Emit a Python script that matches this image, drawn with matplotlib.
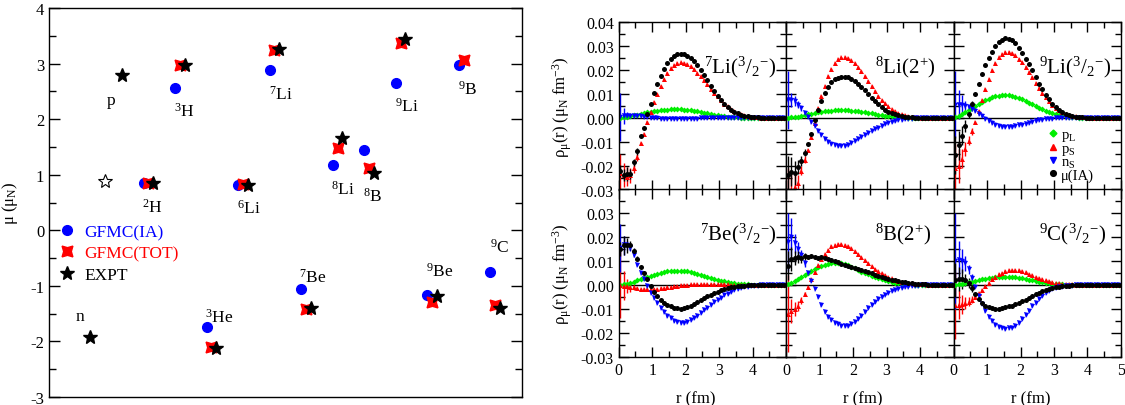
import numpy as np
import matplotlib
matplotlib.use('Agg')
import matplotlib.pyplot as plt
from matplotlib.ticker import MultipleLocator, FuncFormatter, NullLocator
from matplotlib.lines import Line2D

plt.rcParams['font.family'] = ['Liberation Serif', 'DejaVu Serif']
plt.rcParams['mathtext.fontset'] = 'custom'
plt.rcParams['mathtext.rm'] = 'Liberation Serif'
plt.rcParams['mathtext.it'] = 'Liberation Serif:italic'
plt.rcParams['mathtext.bf'] = 'Liberation Serif:bold'
plt.rcParams['axes.unicode_minus'] = False

nan = np.nan

# ---- left panel: magnetic moments (mu_N) ----
nuclei = ['n', 'p', '2H', '3H', '3He', '6Li', '7Li', '7Be', '8Li', '8B', '9Li', '9Be', '9B', '9C']
label_text = ['n', 'p', r'$^{2}$H', r'$^{3}$H', r'$^{3}$He', r'$^{6}$Li', r'$^{7}$Li', r'$^{7}$Be',
              r'$^{8}$Li', r'$^{8}$B', r'$^{9}$Li', r'$^{9}$Be', r'$^{9}$B', r'$^{9}$C']
mu_ia = [nan, nan, 0.847, 2.56, -1.74, 0.82, 2.88, -1.06, 1.17, 1.45, 2.66, -1.17, 2.97, -0.75]
mu_tot = [nan, nan, 0.86, 2.97, -2.10, 0.83, 3.24, -1.41, 1.49, 1.12, 3.38, -1.29, 3.06, -1.35]
mu_expt = [-1.913, 2.793, 0.857, 2.979, -2.127, 0.822, 3.256, -1.398, 1.654, 1.036, 3.437, -1.178, nan, -1.391]
mu_pn_sum = 0.880

# label placement (x, y) in data units
label_pos = [(-0.01, -1.55), (0.98, 2.34), (2.28, 0.42), (3.28, 2.15), (4.41, -1.55), (5.33, 0.41),
             (6.34, 2.46), (7.375, -0.84), (8.33, 0.75), (9.27, 0.63), (10.35, 2.25), (11.4, -0.72),
             (12.28, 2.55), (13.28, -0.30)]

# ---- right panels: densities, units of 1e-3 mu_N fm^-3, r = 0.05 ... 4.95 fm ----
r_fm = np.linspace(0.05, 4.95, 50)

li7_pL = [0.1, 0.3, 0.5, 0.8, 1.1, 1.4, 1.8, 2.1, 2.4, 2.7,
          2.9, 3.1, 3.3, 3.4, 3.5, 3.6, 3.6, 3.6, 3.6, 3.5,
          3.4, 3.2, 3.0, 2.8, 2.5, 2.2, 1.9, 1.6, 1.3, 1.1,
          0.9, 0.7, 0.55, 0.4, 0.3, 0.2, 0.15, 0.1, 0.07, 0.05,
          0.03, 0.02, 0.01, 0, 0, 0, 0, 0, 0, 0]
li7_pS = [-23, -24, -24.5, -24, -21, -16.5, -10.5, -6.5, -1.5, 2.5,
          6.5, 10, 13.5, 16.5, 19, 21, 22.3, 23, 23.2, 23,
          22.5, 21.6, 20.5, 19, 17.5, 15.8, 14, 12.3, 10.6, 9,
          7.5, 6, 4.8, 3.7, 2.8, 2.1, 1.5, 1.1, 0.8, 0.5,
          0.35, 0.25, 0.15, 0.1, 0.05, 0.03, 0.02, 0.01, 0, 0]
li7_nS = [0.5, 0.8, 0.9, 0.9, 0.9, 0.8, 0.7, 0.5, 0.3, 0.1,
          -0.1, -0.2, -0.3, -0.4, -0.5, -0.5, -0.5, -0.5, -0.5, -0.5,
          -0.4, -0.4, -0.3, -0.3, -0.2, -0.2, -0.1, -0.1, -0.05, -0.05,
          0, 0, 0, 0, 0, 0, 0, 0, 0, 0,
          0, 0, 0, 0, 0, 0, 0, 0, 0, 0]
li7_mu = [-22, -24, -23.5, -23.5, -18.5, -14, -7.5, -4, 1.5, 6,
          10.5, 14, 17.5, 20.5, 23, 24.8, 26, 26.7, 26.8, 26.6,
          26, 25, 23.7, 22, 20, 18, 15.8, 13.5, 11.3, 9.3,
          7.5, 5.9, 4.6, 3.5, 2.6, 1.9, 1.4, 1.0, 0.7, 0.5,
          0.35, 0.25, 0.15, 0.1, 0.05, 0.03, 0.02, 0.01, 0, 0]

li8_pL = [0.1, 0.2, 0.4, 0.6, 0.9, 1.2, 1.5, 1.8, 2.1, 2.4,
          2.6, 2.8, 3.0, 3.1, 3.2, 3.3, 3.3, 3.3, 3.2, 3.1,
          3.0, 2.8, 2.6, 2.4, 2.1, 1.9, 1.6, 1.4, 1.15, 0.95,
          0.78, 0.62, 0.48, 0.37, 0.28, 0.21, 0.15, 0.11, 0.08, 0.05,
          0.03, 0.02, 0.01, 0, 0, 0, 0, 0, 0, 0]
li8_pS = [-31, -30, -29, -27, -22, -17.5, -13.5, -8, -2, 4,
          9, 13.5, 17.5, 20.5, 23, 24.5, 25.3, 25.5, 25.2, 24.3,
          23, 21.4, 19.5, 17.5, 15.3, 13.2, 11.2, 9.3, 7.6, 6.1,
          4.8, 3.7, 2.8, 2.1, 1.5, 1.1, 0.8, 0.55, 0.4, 0.27,
          0.18, 0.12, 0.08, 0.05, 0.03, 0.02, 0.01, 0, 0, 0]
li8_nS = [7.5, 7.5, 7.0, 5.5, 4.0, 2.2, 0.5, -1.5, -3.5, -5.5,
          -7.3, -8.7, -9.9, -10.8, -11.5, -11.8, -11.8, -11.6, -11.2, -10.6,
          -9.8, -9.0, -8.1, -7.2, -6.3, -5.5, -4.7, -4.0, -3.3, -2.7,
          -2.2, -1.7, -1.3, -1.0, -0.75, -0.55, -0.4, -0.3, -0.2, -0.15,
          -0.1, -0.06, -0.04, -0.02, 0, 0, 0, 0, 0, 0]
li8_mu = [-24, -22.5, -23, -20.5, -18, -14.5, -11, -6.5, -1, 3.5,
          7, 10.5, 13, 15, 16.2, 16.9, 17.3, 17.3, 17, 16.5,
          15.5, 14.3, 13, 11.5, 10, 8.5, 7, 5.7, 4.5, 3.5,
          2.7, 2, 1.5, 1.1, 0.8, 0.5, 0.35, 0.25, 0.15, 0.1,
          0.05, 0, 0, 0, 0, 0, 0, 0, 0, 0]

li9_pL = [0.2, 0.8, 1.6, 2.5, 3.4, 4.3, 5.2, 6.0, 6.8, 7.5,
          8.1, 8.6, 9.0, 9.3, 9.5, 9.5, 9.4, 9.2, 8.8, 8.3,
          7.8, 7.1, 6.4, 5.7, 5.0, 4.3, 3.6, 3.0, 2.5, 2.0,
          1.6, 1.25, 0.95, 0.7, 0.52, 0.38, 0.27, 0.19, 0.13, 0.09,
          0.06, 0.04, 0.02, 0.01, 0, 0, 0, 0, 0, 0]
li9_pS = [-21, -20, -17, -13, -9.5, -5.5, -1.5, 3, 7.5, 12,
          16.5, 20, 23, 25.3, 26.7, 27.4, 27.5, 27.1, 26.2, 24.8,
          23.2, 21.3, 19.2, 17, 14.8, 12.6, 10.6, 8.7, 7.0, 5.6,
          4.3, 3.3, 2.5, 1.8, 1.3, 0.9, 0.65, 0.45, 0.3, 0.2,
          0.13, 0.09, 0.06, 0.04, 0.02, 0.01, 0, 0, 0, 0]
li9_nS = [5.5, 5.6, 5.5, 5.2, 4.6, 3.8, 2.8, 1.8, 0.7, -0.4,
          -1.4, -2.2, -2.8, -3.3, -3.6, -3.7, -3.7, -3.6, -3.4, -3.1,
          -2.8, -2.4, -2.0, -1.6, -1.3, -1.0, -0.75, -0.55, -0.4, -0.28,
          -0.2, -0.13, -0.09, -0.06, -0.03, 0, 0, 0, 0, 0,
          0, 0, 0, 0, 0, 0, 0, 0, 0, 0]
li9_mu = [-15.5, -11.5, -7.5, -3.5, 1.5, 6, 10, 14, 18.5, 22,
          25, 27.7, 30, 31.8, 32.8, 33.3, 33.2, 32.5, 31.2, 29.2,
          27, 24.7, 22.5, 20, 17.2, 14.4, 12, 9.8, 7.8, 6.0,
          4.5, 3.4, 2.5, 1.8, 1.3, 0.9, 0.6, 0.4, 0.28, 0.18,
          0.12, 0.08, 0.05, 0.03, 0.02, 0.01, 0, 0, 0, 0]

be7_pL = [0.1, 0.3, 0.6, 1.0, 1.4, 1.9, 2.4, 2.9, 3.4, 3.9,
          4.3, 4.7, 5.1, 5.4, 5.7, 5.9, 6.0, 6.0, 6.0, 5.9,
          5.7, 5.4, 5.1, 4.7, 4.3, 3.9, 3.4, 3.0, 2.6, 2.2,
          1.8, 1.5, 1.2, 0.95, 0.75, 0.58, 0.44, 0.33, 0.25, 0.18,
          0.13, 0.09, 0.06, 0.04, 0.02, 0.01, 0, 0, 0, 0]
be7_pS = [0, -0.3, -0.5, -0.8, -1.0, -1.3, -1.5, -1.7, -1.8, -1.8,
          -1.7, -1.6, -1.4, -1.2, -1.0, -0.8, -0.6, -0.4, -0.2, 0,
          0.1, 0.2, 0.3, 0.35, 0.4, 0.4, 0.4, 0.4, 0.35, 0.3,
          0.3, 0.25, 0.2, 0.15, 0.1, 0.07, 0.05, 0.03, 0.02, 0.01,
          0, 0, 0, 0, 0, 0, 0, 0, 0, 0]
be7_nS = [15.5, 16.5, 16.5, 15.5, 12.5, 8.5, 5, 2.5, -0.5, -3.5,
          -5.5, -7.5, -9.5, -11.3, -12.8, -14, -14.9, -15.5, -15.8, -15.8,
          -15.4, -14.7, -13.8, -12.8, -11.7, -10.6, -9.5, -8.4, -7.3, -6.3,
          -5.3, -4.4, -3.6, -2.9, -2.3, -1.8, -1.35, -1.0, -0.7, -0.5,
          -0.35, -0.25, -0.17, -0.11, -0.07, -0.04, -0.02, 0, 0, 0]
be7_mu = [15, 16.5, 16.5, 16.5, 14, 11, 7.5, 5, 2.3, -0.5,
          -3, -4.7, -6.2, -7.4, -8.3, -9, -9.5, -9.8, -9.9, -9.8,
          -9.4, -8.8, -8.0, -7.2, -6.4, -5.6, -4.8, -4.1, -3.4, -2.8,
          -2.2, -1.7, -1.3, -1.0, -0.7, -0.5, -0.35, -0.25, -0.17, -0.11,
          -0.07, -0.04, -0.02, 0, 0, 0, 0, 0, 0, 0]

b8_pL = [0.3, 0.8, 1.5, 2.3, 3.2, 4.1, 5.0, 5.9, 6.7, 7.4,
         8.0, 8.5, 8.9, 9.1, 9.2, 9.2, 9.0, 8.7, 8.2, 7.5,
         6.9, 6.3, 5.6, 5.0, 4.4, 3.8, 3.3, 2.8, 2.3, 1.9,
         1.5, 1.2, 0.95, 0.75, 0.57, 0.43, 0.32, 0.24, 0.17, 0.12,
         0.08, 0.06, 0.04, 0.02, 0.01, 0, 0, 0, 0, 0]
b8_pS = [-12, -11, -10, -8.7, -6.5, -3.8, -0.8, 2.3, 5.3, 8.2,
         10.8, 13, 14.8, 16.1, 16.9, 17.3, 17.3, 16.9, 16.2, 15.3,
         14.2, 13, 11.7, 10.4, 9.1, 7.9, 6.8, 5.8, 4.9, 4.0,
         3.3, 2.7, 2.2, 1.8, 1.4, 1.1, 0.85, 0.65, 0.5, 0.38,
         0.29, 0.22, 0.16, 0.12, 0.09, 0.07, 0.05, 0.03, 0.02, 0.01]
b8_nS = [18, 20, 17.5, 15, 12.5, 9, 5, 1.5, -1.5, -5,
         -8.5, -11.3, -13.3, -14.8, -15.8, -16.5, -17, -17.2, -17, -16.4,
         -15.4, -14.2, -12.8, -11.3, -9.8, -8.4, -7.1, -5.9, -4.9, -4.0,
         -3.2, -2.5, -2.0, -1.5, -1.2, -0.9, -0.65, -0.48, -0.35, -0.25,
         -0.18, -0.12, -0.08, -0.05, -0.03, -0.02, 0, 0, 0, 0]
b8_mu = [8, 11, 11.3, 11.5, 11.3, 12, 11.8, 12.3, 11.8, 11.4,
         11.8, 11.3, 11, 10.6, 10.1, 9.5, 8.8, 8.3, 7.8, 7.4,
         6.9, 6.5, 6.1, 5.7, 5.3, 4.8, 4.3, 3.8, 3.4, 3.0,
         2.6, 2.2, 1.9, 1.6, 1.3, 1.1, 0.9, 0.7, 0.55, 0.42,
         0.32, 0.24, 0.18, 0.13, 0.09, 0.06, 0.04, 0.02, 0.01, 0]

c9_pL = [0.1, 0.3, 0.5, 0.8, 1.1, 1.4, 1.7, 2.0, 2.3, 2.6,
         2.8, 3.0, 3.2, 3.3, 3.4, 3.4, 3.4, 3.3, 3.2, 3.0,
         2.8, 2.5, 2.2, 1.9, 1.6, 1.3, 1.05, 0.85, 0.65, 0.5,
         0.38, 0.28, 0.2, 0.14, 0.1, 0.07, 0.05, 0.03, 0.02, 0.01,
         0, 0, 0, 0, 0, 0, 0, 0, 0, 0]
c9_pS = [-8.5, -8.3, -8, -7.5, -7, -6.2, -5, -3.5, -2, -0.5,
         1.0, 2.4, 3.5, 4.4, 5.1, 5.7, 6.1, 6.3, 6.3, 6.1,
         5.8, 5.3, 4.7, 4.1, 3.5, 2.9, 2.4, 1.9, 1.5, 1.2,
         0.9, 0.7, 0.5, 0.38, 0.28, 0.2, 0.14, 0.1, 0.07, 0.05,
         0.03, 0.02, 0.01, 0, 0, 0, 0, 0, 0, 0]
c9_nS = [10, 10.5, 10, 9, 6.5, 3, -1, -4.5, -8, -11,
         -13.3, -15.2, -16.7, -17.6, -18.1, -18.3, -18.2, -17.8, -17, -15.8,
         -14.3, -12.6, -10.8, -9.0, -7.4, -5.9, -4.6, -3.5, -2.6, -1.9,
         -1.4, -1.0, -0.7, -0.5, -0.35, -0.24, -0.16, -0.1, -0.06, -0.03,
         0, 0, 0, 0, 0, 0, 0, 0, 0, 0]
c9_mu = [2, 2.5, 2.5, 2, 0.8, -1.3, -3.6, -5.8, -7.5, -8.6,
         -9.3, -9.7, -9.9, -9.9, -9.7, -9.4, -9.0, -8.6, -8.1, -7.5,
         -6.8, -6.1, -5.3, -4.6, -3.9, -3.2, -2.6, -2.1, -1.7, -1.3,
         -1.0, -0.75, -0.55, -0.4, -0.28, -0.2, -0.14, -0.09, -0.06, -0.04,
         -0.02, 0, 0, 0, 0, 0, 0, 0, 0, 0]

# statistical errors of the first six points (pS, nS, mu); later points share a small error
li7_err = ([8, 5, 4, 3, 2, 1.5], [10, 3.5, 1.5, 1, 0.8, 0.5], [2.5, 2.5, 3, 2, 1.5, 1.5])
li8_err = ([10, 8, 6, 3, 2, 1.5], [12, 3, 2, 1.5, 1, 0.5], [8, 6, 5, 3, 2, 1.5])
li9_err = ([10, 7, 4, 3, 2, 1.5], [14, 6, 4, 2, 1, 0.8], [8, 6, 4, 2.5, 1.5, 1])
be7_err = ([14, 6, 3, 2, 1, 0.5], [10, 4, 2, 1.5, 1, 0.5], [3, 4, 3, 2, 1.5, 1])
b8_err = ([16, 5, 3, 2, 1.5, 1], [12, 8, 4, 3, 2, 1.5], [6, 5, 3, 2.5, 2, 1.5])
c9_err = ([14, 6, 4, 2.5, 2, 1.5], [20, 8, 5, 3, 2, 1.5], [7, 5, 4, 2.5, 2, 1.5])
tail_err = 0.4

panels = [
    (r'$^{7}$Li($^{3}$/$_{2}$$^{\mathrm{-}}$)', li7_pL, li7_pS, li7_nS, li7_mu, li7_err, 0.943),
    (r'$^{8}$Li(2$^{+}$)', li8_pL, li8_pS, li8_nS, li8_mu, li8_err, 0.896),
    (r'$^{9}$Li($^{3}$/$_{2}$$^{\mathrm{-}}$)', li9_pL, li9_pS, li9_nS, li9_mu, li9_err, 0.94),
    (r'$^{7}$Be($^{3}$/$_{2}$$^{\mathrm{-}}$)', be7_pL, be7_pS, be7_nS, be7_mu, be7_err, 0.943),
    (r'$^{8}$B(2$^{+}$)', b8_pL, b8_pS, b8_nS, b8_mu, b8_err, 0.866),
    (r'$^{9}$C($^{3}$/$_{2}$$^{\mathrm{-}}$)', c9_pL, c9_pS, c9_nS, c9_mu, c9_err, 0.915),
]

fig = plt.figure(figsize=(11.25, 4.06), dpi=100)

# ---------------- left panel ----------------
axL = fig.add_axes([0.0436, 0.0197, 0.4204, 0.958])
x_idx = np.arange(len(nuclei))
axL.plot(x_idx, mu_ia, 'o', color='#0000ff', ms=7, mec='#0000ff', zorder=3, label='GFMC(IA)')
axL.plot(x_idx + 0.15, mu_tot, marker=(4, 1, 45), ls='none', color='#ff0000', ms=11,
         zorder=4, label='GFMC(TOT)')
axL.plot(x_idx + 0.3, mu_expt, '*', color='black', ms=10, zorder=5, label='EXPT')
axL.plot([0.78], [mu_pn_sum], '*', mfc='white', mec='black', mew=0.8, ms=10, zorder=5)
for txt, (lx, ly) in zip(label_text, label_pos):
    axL.text(lx, ly, txt, ha='center', va='center', fontsize=12.5)

axL.set_xlim(-1, 14)
axL.set_ylim(-3, 4)
axL.xaxis.set_major_locator(NullLocator())
axL.yaxis.set_major_locator(MultipleLocator(1))
axL.yaxis.set_minor_locator(MultipleLocator(0.5))
axL.tick_params(axis='y', which='both', direction='in', left=True, right=True, labelsize=12)
axL.tick_params(axis='y', which='major', length=8, width=1)
axL.tick_params(axis='y', which='minor', length=5, width=1)
axL.set_ylabel(r'μ (μ$_{\mathrm{N}}$)', fontsize=12)
axL.yaxis.set_label_coords(-0.062, 0.5)
for s in axL.spines.values():
    s.set_linewidth(1.0)
leg = axL.legend(loc='upper left', bbox_to_anchor=(0.02, 0.445), frameon=False, fontsize=12.5,
                 handlelength=1.0, handletextpad=0.5, borderpad=0, labelspacing=0.3,
                 borderaxespad=0)
for t, c in zip(leg.get_texts(), ['#0000ff', '#ff0000', 'black']):
    t.set_color(c)

# ---------------- right panels ----------------
gx0, gw = 0.550, 0.1488
rows_y = [0.5303, 0.1190]
gh = 0.4123
styles = [('#00ee00', 'D', 3.0), ('#ff0000', '^', 3.6), ('#0000ff', 'v', 3.6), ('black', 'o', 3.6)]
leg_labels = [r'p$_{\mathrm{L}}$', r'p$_{\mathrm{S}}$', r'n$_{\mathrm{S}}$', 'μ(IA)']

for k, (title, pL, pS, nS, mu, errs, tx) in enumerate(panels):
    row, col = divmod(k, 3)
    ax = fig.add_axes([gx0 + col * gw, rows_y[row], gw, gh])
    ax.axhline(0, color='black', lw=1.0, zorder=1)
    err_sets = [[0.2] * 6] + list(errs)
    for (c, m, ms), vals, e6 in zip(styles, [pL, pS, nS, mu], err_sets):
        yerr = np.array(list(e6) + [tail_err if c != '#00ee00' else 0.2] * (len(r_fm) - 6)) * 1e-3
        ax.errorbar(r_fm, np.array(vals) * 1e-3, yerr=yerr, fmt=m, color=c, ms=ms, mew=0,
                    ecolor=c, elinewidth=1.0, capsize=0, zorder=2)
    ax.text(tx, 0.70, title, transform=ax.transAxes, ha='right', va='baseline', fontsize=15)
    ax.set_xlim(0, 5)
    ax.set_ylim(-0.03, 0.04)
    ax.xaxis.set_major_locator(MultipleLocator(1))
    ax.xaxis.set_minor_locator(MultipleLocator(0.5))
    ax.yaxis.set_major_locator(MultipleLocator(0.01))
    ax.yaxis.set_minor_locator(MultipleLocator(0.005))
    ax.tick_params(which='both', direction='in', top=True, right=True, labelsize=11.5,
                   labelleft=(col == 0), labelbottom=(row == 1))
    ax.tick_params(which='major', length=7, width=1)
    ax.tick_params(which='minor', length=4, width=1)
    ax.xaxis.set_major_formatter(FuncFormatter(
        lambda v, p, cc=col: '%d' % round(v) if (v < 4.5 or cc == 2) else ''))
    ax.yaxis.set_major_formatter(FuncFormatter(
        lambda v, p, rr=row: ('%.2f' % v).replace('-0.00', '0.00') if (rr == 0 or v < 0.035) else ''))
    for s in ax.spines.values():
        s.set_linewidth(1.0)
    if col == 0:
        ax.set_ylabel(r'ρ$_{\mathrm{μ}}$(r) (μ$_{\mathrm{N}}$ fm$^{-3}$)', fontsize=12)
        ax.yaxis.set_label_coords(-0.27, 0.5)
    if row == 1:
        ax.set_xlabel('r (fm)', fontsize=12)
        ax.xaxis.set_label_coords(0.46, -0.2)
    if k == 2:
        handles = [Line2D([], [], ls='none', marker=m, color=c, ms=ms + 0.5) for c, m, ms in styles]
        ax.legend(handles, leg_labels, loc='upper left', bbox_to_anchor=(0.565, 0.37),
                  frameon=False, fontsize=10.5, handlelength=0.6, handletextpad=0.3,
                  borderpad=0, borderaxespad=0, labelspacing=-0.1)

fig.savefig('out.png', dpi=100)
